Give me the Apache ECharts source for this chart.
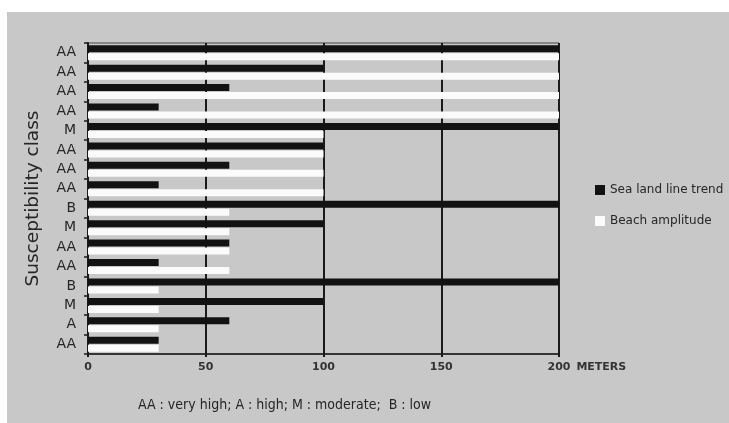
<!DOCTYPE html>
<html>
<head>
<meta charset="utf-8">
<script src="https://cdn.jsdelivr.net/npm/echarts@6/dist/echarts.min.js"></script>
<style>
  html, body { margin: 0; padding: 0; background: #ffffff; }
  #chart { width: 729px; height: 423px; }
</style>
</head>
<body>
<div id="chart"></div>
<script>
// categories listed top to bottom, as printed on the axis
const classes = ['AA', 'AA', 'AA', 'AA', 'M', 'AA', 'AA', 'AA', 'B', 'M', 'AA', 'AA', 'B', 'M', 'A', 'AA'];
const seaLandTrend = [200, 100, 60, 30, 200, 100, 60, 30, 200, 100, 60, 30, 200, 100, 60, 30];
const beachAmplitude = [200, 200, 200, 200, 100, 100, 100, 100, 60, 60, 60, 60, 30, 30, 30, 30];
const xTicks = [0, 50, 100, 150, 200];

const wide = "'DejaVu Sans', Verdana, sans-serif";
const narrow = "'DejaVu Sans Condensed', 'DejaVu Sans', sans-serif";
const ink = '#262626';

const chart = echarts.init(document.getElementById('chart'));

chart.setOption({
    animation: false,
    textStyle: { fontFamily: wide },
    graphic: [{
        type: 'rect', z: -10, silent: true,
        shape: { x: 7, y: 12, width: 722, height: 411 },
        style: { fill: '#c8c8c8' }
    }],
    title: {
        text: 'AA : very high; A : high; M : moderate;  B : low',
        left: 133, top: 393,
        textStyle: { fontFamily: narrow, fontSize: 14, fontWeight: 'normal', color: ink }
    },
    legend: {
        data: ['Sea land line trend', 'Beach amplitude'],
        orient: 'vertical',
        left: 590, top: 179,
        itemWidth: 10, itemHeight: 10, itemGap: 19,
        icon: 'rect',
        textStyle: { fontFamily: wide, fontSize: 12, color: ink }
    },
    grid: {
        left: 88, right: 170, top: 43, bottom: 69,
        show: true, borderColor: '#444', borderWidth: 1, backgroundColor: 'transparent'
    },
    xAxis: {
        type: 'value',
        min: 0, max: 200, interval: 50,
        name: 'METERS',
        nameLocation: 'end',
        nameGap: 15,
        nameTextStyle: { fontFamily: wide, fontSize: 11, fontWeight: 'bold', color: '#333',
            verticalAlign: 'top', padding: [8, 0, 0, 0] },
        axisLine: { show: true, lineStyle: { color: '#1a1a1a', width: 1.5 } },
        axisTick: { show: true, length: 3, lineStyle: { color: '#1a1a1a', width: 2 } },
        axisLabel: {
            margin: 8, fontFamily: wide, fontSize: 11, fontWeight: 'bold', color: '#333',
            formatter: v => xTicks.includes(v) ? String(v) : ''
        },
        splitLine: { show: true, lineStyle: { color: '#1a1a1a', width: 2 } }
    },
    yAxis: {
        type: 'category',
        data: classes,
        inverse: true,
        name: 'Susceptibility class',
        nameLocation: 'middle',
        nameGap: 45,
        nameRotate: 90,
        nameTextStyle: { fontFamily: wide, fontSize: 18.5, color: ink },
        axisLine: { show: true, lineStyle: { color: '#1a1a1a', width: 2 } },
        axisTick: { show: true, length: 4, lineStyle: { color: '#1a1a1a', width: 1.5 } },
        axisLabel: { margin: 12, fontFamily: wide, fontSize: 14, color: ink }
    },
    series: [
        {
            name: 'Sea land line trend',
            type: 'bar',
            data: seaLandTrend,
            barWidth: 7,
            barGap: '15%',
            itemStyle: { color: '#121212' }
        },
        {
            name: 'Beach amplitude',
            type: 'bar',
            data: beachAmplitude,
            barWidth: 7,
            itemStyle: { color: '#fbfbfb' }
        }
    ]
});
</script>
</body>
</html>
